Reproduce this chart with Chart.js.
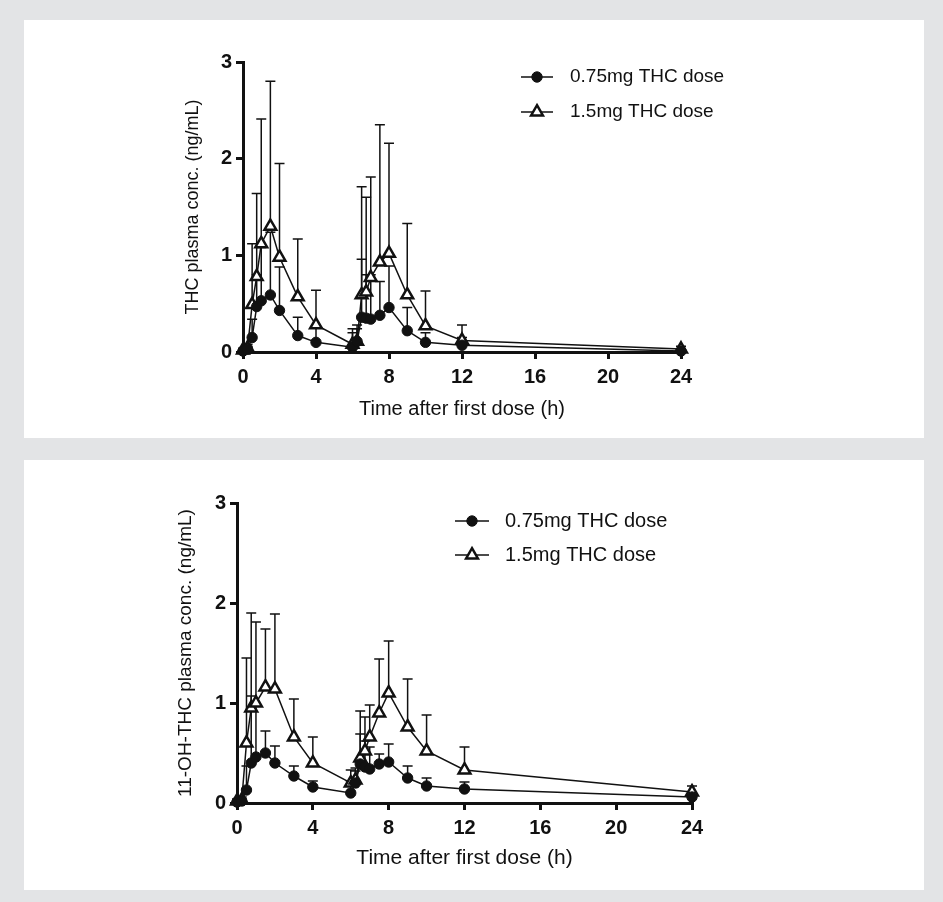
<!DOCTYPE html>
<html><head><meta charset="utf-8">
<script src="https://cdn.jsdelivr.net/npm/chart.js@4.4.1/dist/chart.umd.min.js"></script>
<style>
html,body{margin:0;padding:0;background:#e3e4e6;}
body{width:943px;height:902px;position:relative;overflow:hidden;}
.panel{position:absolute;left:24px;width:900px;background:#fff;}
#p1{top:20px;height:418px;}
#p2{top:460px;height:430px;}
canvas{display:block;}
</style></head><body>
<div class="panel" id="p1"><canvas id="c1" width="900" height="418"></canvas></div>
<div class="panel" id="p2"><canvas id="c2" width="900" height="430"></canvas></div>
<script>
// ---- data ----
const timePoints = [0, 0.25, 0.5, 0.75, 1, 1.5, 2, 3, 4, 6, 6.25, 6.5, 6.75, 7, 7.5, 8, 9, 10, 12, 24];
const seriesLabels = ['0.75mg THC dose', '1.5mg THC dose'];
const xTicks = [0, 4, 8, 12, 16, 20, 24];
const yTicks = [0, 1, 2, 3];
const xTitle = 'Time after first dose (h)';
const yTitleTHC = 'THC plasma conc. (ng/mL)';
const yTitleOH = '11-OH-THC plasma conc. (ng/mL)';

// THC, mean and SD (upper error bar)
const thcLow    = [0.01, 0.03, 0.15, 0.47, 0.53, 0.59, 0.43, 0.17, 0.10, 0.05, 0.11, 0.36, 0.35, 0.34, 0.38, 0.46, 0.22, 0.10, 0.07, 0.01];
const thcLowSD  = [0.02, 0.03, 0.19, 0.33, 0.55, 0.65, 0.45, 0.19, 0.15, 0.15, 0.13, 0.60, 0.45, 0.46, 0.35, 0.43, 0.24, 0.10, 0.08, 0.01];
const thcHigh   = [0.02, 0.04, 0.49, 0.78, 1.12, 1.30, 0.98, 0.57, 0.28, 0.08, 0.11, 0.59, 0.62, 0.77, 0.93, 1.02, 0.59, 0.27, 0.12, 0.03];
const thcHighSD = [0.02, 0.04, 0.63, 0.86, 1.29, 1.50, 0.97, 0.60, 0.36, 0.16, 0.17, 1.12, 0.98, 1.04, 1.42, 1.14, 0.74, 0.36, 0.16, 0.03];

// 11-OH-THC, mean and SD
const ohLow     = [0.01, 0.02, 0.13, 0.40, 0.46, 0.50, 0.40, 0.27, 0.16, 0.10, 0.20, 0.39, 0.36, 0.34, 0.39, 0.41, 0.25, 0.17, 0.14, 0.06];
const ohLowSD   = [0.01, 0.02, 0.24, 0.67, 0.52, 0.22, 0.17, 0.10, 0.06, 0.12, 0.12, 0.30, 0.26, 0.22, 0.10, 0.18, 0.12, 0.08, 0.07, 0.02];
const ohHigh    = [0.02, 0.03, 0.60, 0.95, 1.00, 1.16, 1.14, 0.66, 0.40, 0.20, 0.23, 0.45, 0.52, 0.66, 0.90, 1.10, 0.76, 0.52, 0.33, 0.11];
const ohHighSD  = [0.02, 0.03, 0.85, 0.95, 0.81, 0.58, 0.75, 0.38, 0.26, 0.13, 0.12, 0.47, 0.34, 0.32, 0.54, 0.52, 0.48, 0.36, 0.23, 0.06];

// ---- styling ----
const FONT = '"Liberation Sans", Arial, Helvetica, sans-serif';
const INK = '#111111';

const errorBarPlugin = {
  id: 'errorBars',
  beforeDatasetsDraw(chart) {
    const ctx = chart.ctx;
    const ys = chart.scales.y;
    ctx.save();
    ctx.strokeStyle = INK;
    ctx.lineWidth = 1.5;
    chart.data.datasets.forEach((ds, di) => {
      const meta = chart.getDatasetMeta(di);
      meta.data.forEach((pt, j) => {
        const sd = ds.errorPlus[j];
        if (!sd) return;
        const yTop = ys.getPixelForValue(ds.data[j].y + sd);
        ctx.beginPath();
        ctx.moveTo(pt.x, pt.y);
        ctx.lineTo(pt.x, yTop);
        ctx.moveTo(pt.x - 5, yTop);
        ctx.lineTo(pt.x + 5, yTop);
        ctx.stroke();
      });
    });
    ctx.restore();
  }
};

const legendPlugin = {
  id: 'inlineLegend',
  afterDraw(chart, args, opts) {
    const ctx = chart.ctx;
    ctx.save();
    chart.data.datasets.forEach((ds, i) => {
      const y = opts.y + i * opts.rowGap;
      ctx.strokeStyle = INK;
      ctx.lineWidth = 1.5;
      ctx.beginPath();
      ctx.moveTo(opts.x, y);
      ctx.lineTo(opts.x + opts.lineLen, y);
      ctx.stroke();
      ctx.fillStyle = ds.pointBackgroundColor;
      ctx.strokeStyle = ds.pointBorderColor;
      ctx.lineWidth = ds.pointBorderWidth;
      Chart.helpers.drawPoint(ctx, {pointStyle: ds.pointStyle, radius: ds.pointRadius, rotation: 0, borderWidth: ds.pointBorderWidth}, opts.x + opts.lineLen / 2, y);
      ctx.fillStyle = INK;
      ctx.font = opts.fontSize + 'px ' + FONT;
      ctx.textBaseline = 'middle';
      ctx.textAlign = 'left';
      ctx.fillText(ds.label, opts.textX, y);
    });
    ctx.restore();
  }
};

function makeDatasets(low, lowSD, high, highSD) {
  return [
    {
      label: seriesLabels[0],
      data: timePoints.map((t, i) => ({x: t, y: low[i]})),
      errorPlus: lowSD,
      borderColor: INK, borderWidth: 1.5,
      pointStyle: 'circle', pointRadius: 5.2,
      pointBackgroundColor: INK, pointBorderColor: INK, pointBorderWidth: 1,
      tension: 0, clip: false
    },
    {
      label: seriesLabels[1],
      data: timePoints.map((t, i) => ({x: t, y: high[i]})),
      errorPlus: highSD,
      borderColor: INK, borderWidth: 1.5,
      pointStyle: 'triangle', pointRadius: 6.8,
      pointBackgroundColor: '#ffffff', pointBorderColor: INK, pointBorderWidth: 2.5,
      tension: 0, clip: false
    }
  ];
}

function makeChart(canvasId, datasets, yTitle, L) {
  return new Chart(document.getElementById(canvasId), {
    type: 'line',
    data: {datasets},
    plugins: [errorBarPlugin, legendPlugin],
    options: {
      responsive: false,
      animation: false,
      events: [],
      layout: {padding: {left: L.padLeft, right: L.padRight, top: L.padTop, bottom: L.padBottom}},
      plugins: {
        legend: {display: false},
        tooltip: {enabled: false},
        inlineLegend: L.legend
      },
      scales: {
        x: {
          type: 'linear', min: 0, max: 24,
          afterBuildTicks: s => { s.ticks = xTicks.map(v => ({value: v})); },
          afterFit: s => { s.height = L.xHeight; },
          border: {display: true, color: INK, width: 3},
          grid: {display: true, drawOnChartArea: false, drawTicks: true, tickLength: 7, color: INK, lineWidth: 3},
          ticks: {color: INK, font: {family: FONT, size: L.tickSize, weight: 'bold'}, padding: 6, maxRotation: 0},
          title: {display: true, text: xTitle, color: INK, font: {family: FONT, size: L.xTitleSize}, padding: {top: 0, bottom: 0}}
        },
        y: {
          type: 'linear', min: 0, max: 3,
          afterBuildTicks: s => { s.ticks = yTicks.map(v => ({value: v})); },
          afterFit: s => { s.width = L.yWidth; },
          border: {display: true, color: INK, width: 3},
          grid: {display: true, drawOnChartArea: false, drawTicks: true, tickLength: 7, color: INK, lineWidth: 3},
          ticks: {color: INK, font: {family: FONT, size: L.tickSize, weight: 'bold'}, padding: 4},
          title: {display: true, text: yTitle, color: INK, font: {family: FONT, size: L.yTitleSize}, padding: {top: 0, bottom: 0}}
        }
      }
    }
  });
}

makeChart('c1', makeDatasets(thcLow, thcLowSD, thcHigh, thcHighSD), yTitleTHC, {
  padLeft: 158, padRight: 243, padTop: 42, padBottom: 17,
  yWidth: 61, xHeight: 69, tickSize: 20, xTitleSize: 20, yTitleSize: 18,
  legend: {x: 497, y: 57, rowGap: 35, lineLen: 32, textX: 546, fontSize: 19}
});

makeChart('c2', makeDatasets(ohLow, ohLowSD, ohHigh, ohHighSD), yTitleOH, {
  padLeft: 150, padRight: 232, padTop: 43, padBottom: 19,
  yWidth: 63, xHeight: 68, tickSize: 20, xTitleSize: 21, yTitleSize: 19,
  legend: {x: 431, y: 61, rowGap: 34, lineLen: 34, textX: 481, fontSize: 20}
});
</script>
</body></html>
